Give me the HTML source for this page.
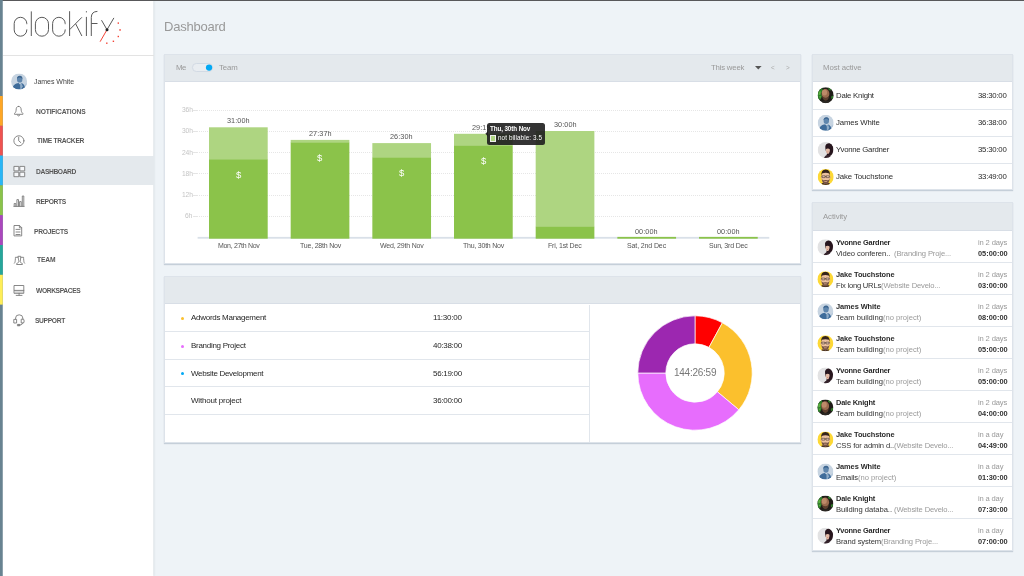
<!DOCTYPE html>
<html><head><meta charset="utf-8"><title>Clockify Dashboard</title>
<style>
*{box-sizing:border-box;margin:0;padding:0}
html,body{width:1024px;height:576px;overflow:hidden}
body{background:#eef3f7;font-family:"Liberation Sans",sans-serif;position:relative}
.a{position:absolute}
.t{position:absolute;white-space:nowrap;will-change:transform}
.card{position:absolute;background:#fff;border:1px solid #dde3ea;box-shadow:0 1px 1px rgba(120,140,160,.35)}
.hd{position:absolute;left:0;top:0;right:0;background:#e4e9ed;border-bottom:1px solid #d8dee6}
.ln{position:absolute;left:0;right:0;height:1px;background:#e1e6ec}
.gl{position:absolute;height:0;border-top:1px dotted #e6e6e6}
.bd{position:absolute;background:#8bc34a}
.bl{position:absolute;background:#aed581}
svg{position:absolute;overflow:visible}

</style></head>
<body>
<!-- sidebar -->
<div class="a" style="left:0;top:0;width:153px;height:576px;background:#fff;box-shadow:1px 0 2px rgba(60,70,80,.14)"></div><div class="a" style="left:153px;top:0;width:1px;height:576px;background:rgba(255,255,255,.35)"></div>
<svg class="a" style="left:0;top:0;z-index:2" width="4" height="576" viewBox="0 0 4 576">
<rect x="0" y="0" width="2.75" height="576" fill="#688391"/>
<rect x="0" y="96" width="2.75" height="29.8" fill="#ffa726"/>
<rect x="0" y="125.8" width="2.75" height="29.8" fill="#ef5350"/>
<rect x="0" y="155.6" width="2.75" height="29.8" fill="#29b6f6"/>
<rect x="0" y="185.4" width="2.75" height="29.8" fill="#8bc34a"/>
<rect x="0" y="215.2" width="2.75" height="29.8" fill="#ab47bc"/>
<rect x="0" y="245" width="2.75" height="29.8" fill="#26a69a"/>
<rect x="0" y="274.8" width="2.75" height="29.8" fill="#ffee58"/>
</svg>
<div class="a" style="left:2px;top:155.6px;width:152px;height:29.8px;background:#e4e9ed"></div>
<div class="a" style="left:3px;top:55px;width:151px;height:1px;background:#e3e3e3"></div>
<div class="a" style="left:0;top:0;width:1024px;height:1.3px;background:#58585a"></div>

<!-- logo -->
<svg class="a" style="left:0;top:0" width="154" height="55" viewBox="0 0 154 55" fill="none" stroke="#5a5a5a" stroke-width="1" stroke-linecap="butt">
<path d="M26.8 24.2 V23.6 A6.3 6.3 0 0 0 14.2 23.6 V29.9 A6.3 6.3 0 0 0 26.8 29.9 V29.4"/>
<path d="M31.3 11.4 V36"/>
<rect x="35.4" y="17.3" width="13.1" height="18.9" rx="6.55" ry="6.55"/>
<path d="M65.2 24.2 V23.6 A6.3 6.3 0 0 0 52.6 23.6 V29.9 A6.3 6.3 0 0 0 65.2 29.9 V29.4"/>
<path d="M69.6 11.2 V36 M69.6 29.7 L81.9 17.3 M75.7 23.9 L81.9 36"/>
<path d="M86.4 16.9 V36 M86.4 11.2 V12.4"/>
<path d="M91.3 36 V17.5 Q91.3 11.6 97.4 11.4 M91.3 23.5 H97.5"/>
<path d="M101.5 20.2 L107 29.7 L113.9 17.9"/>
<path d="M107 29.7 L100.1 41.7" stroke="#f44336"/>
<circle cx="107" cy="29.7" r="1.5" fill="#222" stroke="none"/>
<g fill="#f44336" stroke="none">
<rect x="117.6" y="22.4" width="1.4" height="1.4"/><rect x="119.3" y="29.2" width="1.5" height="1.5"/><rect x="117.6" y="35.8" width="1.4" height="1.4"/><rect x="112.7" y="40.6" width="1.4" height="1.4"/><rect x="106.1" y="42.5" width="1.4" height="1.4"/>
</g>
</svg>

<!-- sidebar avatar -->

<!-- menu icons -->
<svg class="a" style="left:0;top:96px" width="40" height="240" viewBox="0 96 40 240" fill="none" stroke="#7a7a7a" stroke-width="0.9" stroke-linejoin="round" stroke-linecap="round">
<!-- bell -->
<path d="M18.6 106.4 C16.3 106.4 16.2 108.2 16.1 110.2 C16 112 15.2 112.8 14.5 113.5 V114.3 H22.9 V113.5 C22.2 112.8 21.3 112 21.2 110.2 C21.1 108.2 20.9 106.4 18.6 106.4 Z M17.4 115 C17.6 116.4 19.6 116.4 19.8 115"/>
<!-- clock -->
<circle cx="18.9" cy="140.8" r="5.05"/><path d="M18.7 137.2 V140.8 L20.8 142.6"/>
<!-- dashboard -->
<g fill="#f6f8fa"><rect x="14.3" y="166.4" width="4.5" height="4.5"/><rect x="20.2" y="166.4" width="4.5" height="4.5"/><rect x="14.3" y="172.2" width="4.5" height="4.5"/><rect x="20.2" y="172.2" width="4.5" height="4.5"/></g>
<!-- reports -->
<path d="M14.2 206.2 V203.5 H15.8 V206.2 M16.9 206.2 V199.6 H18.5 V206.2 M19.6 206.2 V201.6 H21.2 V206.2 M22.3 206.2 V196 H23.8 V206.2 M13.9 206.4 H24.1"/>
<!-- projects -->
<path d="M14.4 225.5 H19.6 L21.7 227.6 V235.9 H14.4 Z M19.4 225.6 V227.8 H21.6 M16 229.4 H20 M16 232 H20 M16 234.5 H20"/>
<!-- team -->
<path d="M18.3 256.3 H20.7 V258 C20.7 259.6 20.1 260.4 20.2 261.6 C20.3 262.8 21.6 263 22.4 263.6 V264.5 H16.6 V263.6 C17.4 263 18.7 262.8 18.8 261.6 C18.9 260.4 18.3 259.6 18.3 258 Z M17.7 257.3 H15.4 V258.6 C15.4 260 15.1 260.8 15.1 261.6 C15 262.5 14.7 262.8 14.4 263.2 M21.3 257.3 H23.6 V258.6 C23.6 260 23.9 260.8 23.9 261.6 C24 262.5 24.3 262.8 24.6 263.2"/>
<!-- workspaces -->
<rect x="14.5" y="290.4" width="9.2" height="2.9" fill="#ddd" stroke="none"/>
<path d="M14.4 285.5 H23.8 V293.3 H14.4 Z M14.4 290.4 H23.8 M19.1 293.3 V295.2 M16.2 295.4 H22"/>
<!-- support -->
<path d="M15.6 319 V318 A3.4 3 0 0 1 22.8 318 V319 M14.2 319.4 H16.6 V323 H14.2 Z M21.6 319.2 H23.6 Q24.8 321 23.6 323 H21.6 Z M22.8 323 Q22.6 325 19.6 325.2"/>
<rect x="17.8" y="324.4" width="2" height="1.4" fill="#7a7a7a"/>
</svg>
<!-- avatar defs -->
<svg class="a" width="0" height="0" style="left:0;top:0">
<defs>
<clipPath id="cc"><circle cx="8" cy="8" r="8"/></clipPath>
<g id="av-james" clip-path="url(#cc)">
 <rect width="16" height="16" fill="#c7d4e1"/>
 <path d="M9 16 L16 9 V16 Z" fill="#b3c6d9"/>
 <ellipse cx="8.6" cy="5.9" rx="2.7" ry="3.2" fill="#5f86ad"/>
 <path d="M5.8 5.4 Q6 2.2 8.8 2.3 Q11.6 2.6 11.3 5.6 Q10 3.8 8.4 4 Q6.8 4.2 5.8 5.4 Z" fill="#3c658f"/>
 <path d="M1 16 C1.6 11.4 4.6 9.6 7.4 9.4 L9 11 L10.4 9.6 C12.6 10 13.8 12.4 14.2 16 Z" fill="#3f6c9a"/>
 <path d="M9 11 L10.4 9.6 L11.6 12.8 L10.2 16 H9.2 Z" fill="#8eabc7"/>
</g>
<g id="av-dale" clip-path="url(#cc)">
 <rect width="16" height="16" fill="#1f1c18"/>
 <path d="M0 1.6 L4.4 0.6 L5.4 3.6 L3.6 6 L4.4 9 L2.8 12.4 L0 13.4 Z" fill="#2f7d2a"/>
 <path d="M0.8 4.6 L3.2 4 L2.8 7.2 L1 8 Z M1.2 9.4 L3.2 8.8 L2.6 11.2 Z" fill="#5cb040"/>
 <path d="M10.6 0.4 L13.8 1.8 L12.6 3.6 L10.8 2.6 Z M13.4 9.2 L15.6 8.4 L15.4 11.2 L13.6 11.6 Z" fill="#2f7d2a"/>
 <ellipse cx="7.8" cy="6.6" rx="3.9" ry="4.7" fill="#9b6a4e"/>
 <ellipse cx="6.8" cy="5.4" rx="2.6" ry="3" fill="#bd8a69"/>
 <path d="M4.2 8.6 Q5 13.2 8 13.6 Q10.8 13.2 11.4 8.8 Q9.8 10.8 7.8 10.6 Q5.8 10.6 4.2 8.6 Z" fill="#5d3f2e"/>
 <path d="M3 16 Q4 13.2 8 13.6 Q12.4 13.2 14 16 Z" fill="#2b2723"/>
</g>
<g id="av-yvonne" clip-path="url(#cc)">
 <rect width="16" height="16" fill="#e2e2e3"/>
 <path d="M7.6 4.4 C8 1.4 11 0.6 13 1.6 C15.6 3 16 6.4 15.4 9.4 C15 12 13.6 13.4 12 14 L8.6 14.4 L9.4 11 L8 8.6 Z" fill="#28161e"/>
 <path d="M8.4 6.2 Q10.2 5.2 12 6.2 Q12.6 9 11.4 11 Q10.4 12.4 9.4 11.6 Q8.4 10.6 8.2 9 Z" fill="#e3bba6"/>
 <path d="M8 5.6 Q10.2 3.6 12.8 5.8 L12.4 7.2 Q10.4 5.8 8.2 7 Z" fill="#28161e"/>
 <path d="M9.4 9.6 Q10.2 10.1 11 9.6 L10.2 10.5 Z" fill="#b4534f"/>
 <path d="M6 16 Q7.4 13 10.4 12.8 Q13 13 14 16 Z" fill="#34222a"/>
</g>
<g id="av-jake" clip-path="url(#cc)">
 <rect width="16" height="16" fill="#fdd835"/>
 <path d="M2.6 16 Q4 13.4 8 13.6 Q12 13.4 13.4 16 Z" fill="#4a3328"/>
 <ellipse cx="3.9" cy="8.2" rx="0.8" ry="1.3" fill="#dda683"/><ellipse cx="12.1" cy="8.2" rx="0.8" ry="1.3" fill="#dda683"/>
 <path d="M4 7 Q4 2.4 8 2.4 Q12 2.4 12 7 V9.6 Q11.6 14.6 8 14.8 Q4.4 14.6 4 9.6 Z" fill="#ebc0a0"/>
 <path d="M3.8 7 Q3 1 8 0.6 Q13 1 12.2 7 L11.6 4.4 Q8 3.2 4.4 4.4 Z" fill="#35241b"/>
 <path d="M4 9.4 Q4.4 14.8 8 15 Q11.6 14.8 12 9.4 Q11.4 11.4 10 11.2 Q8 10.6 6 11.2 Q4.6 11.4 4 9.4 Z" fill="#765443"/>
 <path d="M6.6 12.2 H9.4 V12.9 H6.6 Z" fill="#e0ae8e"/>
 <path d="M4.4 6.8 H7.4 V8.6 H4.4 Z M8.6 6.8 H11.6 V8.6 H8.6 Z M7.4 7.4 H8.6 M3.8 7.2 H4.4 M11.6 7.2 H12.2" fill="rgba(255,255,255,.25)" stroke="#3a2a22" stroke-width="0.55"/>
</g>
</defs>
</svg>

<!-- chart card -->
<div class="card" style="left:164px;top:54px;width:636.6px;height:210px">
 <div class="hd" style="height:27px"></div>
</div>
<!-- toggle -->
<div class="a" style="left:192px;top:63px;width:20.6px;height:8.6px;border-radius:4.3px;background:#e9edf1;border:1px solid #d2dae4"></div>
<svg class="a" style="left:200px;top:60px" width="16" height="16" viewBox="0 0 16 16"><circle cx="9.06" cy="7.56" r="3.15" fill="#03a9f4"/></svg>
<svg class="a" style="left:754.6px;top:65.8px" width="7" height="4" viewBox="0 0 7 4"><path d="M0 0 H6.6 L3.3 3.6 Z" fill="#555"/></svg>

<!-- gridlines -->
<div class="a" style="left:193px;top:110px;width:4px;height:1px;background:#e4e4e4"></div><div class="a" style="left:193px;top:131px;width:4px;height:1px;background:#e4e4e4"></div><div class="a" style="left:193px;top:152px;width:4px;height:1px;background:#e4e4e4"></div><div class="a" style="left:193px;top:173px;width:4px;height:1px;background:#e4e4e4"></div><div class="a" style="left:193px;top:195px;width:4px;height:1px;background:#e4e4e4"></div><div class="a" style="left:193px;top:216px;width:4px;height:1px;background:#e4e4e4"></div>
<div class="gl" style="left:193px;top:109.7px;width:577px"></div>
<div class="gl" style="left:193px;top:130.9px;width:577px"></div>
<div class="gl" style="left:193px;top:152.2px;width:577px"></div>
<div class="gl" style="left:193px;top:173.4px;width:577px"></div>
<div class="gl" style="left:193px;top:194.7px;width:577px"></div>
<div class="gl" style="left:193px;top:215.9px;width:577px"></div>
<svg class="a" style="left:0;top:0" width="1024" height="576" viewBox="0 0 1024 576"><rect x="197.6" y="236.9" width="571.7" height="1.8" fill="#d9e0e8"/></svg>
<!-- bars -->
<svg class="a" style="left:0;top:0" width="1024" height="576" viewBox="0 0 1024 576">
<rect x="209.00" y="127.3" width="58.7" height="32.30" fill="#aed581"/>
<rect x="209.00" y="159.3" width="58.7" height="79.40" fill="#8bc34a"/>
<rect x="290.67" y="139.9" width="58.7" height="3.00" fill="#aed581"/>
<rect x="290.67" y="142.6" width="58.7" height="96.10" fill="#8bc34a"/>
<rect x="372.34" y="143.1" width="58.7" height="14.80" fill="#aed581"/>
<rect x="372.34" y="157.6" width="58.7" height="81.10" fill="#8bc34a"/>
<rect x="454.01" y="133.8" width="58.7" height="12.30" fill="#aed581"/>
<rect x="454.01" y="145.8" width="58.7" height="92.90" fill="#8bc34a"/>
<rect x="535.68" y="131.0" width="58.7" height="96.10" fill="#aed581"/>
<rect x="535.68" y="226.8" width="58.7" height="11.90" fill="#8bc34a"/>
<rect x="617.35" y="236.9" width="58.7" height="1.8" fill="#8bc34a"/>
<rect x="699.02" y="236.9" width="58.7" height="1.8" fill="#8bc34a"/>
</svg>
<!-- tooltip -->
<div class="a" style="left:487.1px;top:122.6px;width:57.9px;height:22.3px;border-radius:2.5px;background:rgba(30,30,30,.9);z-index:5"></div>
<svg class="a" style="left:484.6px;top:130.6px;z-index:5" width="3" height="6" viewBox="0 0 3 6"><path d="M3 0 V5.6 L0.4 2.8 Z" fill="rgba(30,30,30,.9)"/></svg>
<div class="a" style="left:490.1px;top:135.4px;width:6.4px;height:6.3px;background:#aed581;border:0.6px solid #eee;z-index:6"></div>

<!-- table card -->
<div class="card" style="left:164px;top:276px;width:636.6px;height:166.5px">
 <div class="hd" style="height:27px"></div>
 <div class="ln" style="top:54px;right:211px"></div>
 <div class="ln" style="top:82px;right:211px"></div>
 <div class="ln" style="top:109px;right:211px"></div>
 <div class="ln" style="top:137px;right:211px"></div>
 <div class="a" style="left:423.8px;top:27.5px;width:1px;bottom:0;background:#e1e6ec"></div>
</div>
<div class="a" style="left:180.8px;top:316.9px;width:3px;height:3px;border-radius:50%;background:#fbc02d"></div>
<div class="a" style="left:180.8px;top:344.6px;width:3px;height:3px;border-radius:50%;background:#e76dfd"></div>
<div class="a" style="left:180.8px;top:372.3px;width:3px;height:3px;border-radius:50%;background:#03a9f4"></div>

<!-- donut -->
<svg class="a" style="left:634.7px;top:312.8px" width="120" height="120" viewBox="-60 -60 120 120">
<g stroke="#fff" stroke-width="0.7" stroke-linejoin="round">
<path fill="#ff0000" d="M0.00 -57.20 A57.2 57.2 0 0 1 27.38 -50.22 L13.98 -25.64 A29.2 29.2 0 0 0 0.00 -29.20 Z"/>
<path fill="#fbc02d" d="M27.38 -50.22 A57.2 57.2 0 0 1 43.82 36.77 L22.37 18.77 A29.2 29.2 0 0 0 13.98 -25.64 Z"/>
<path fill="#e76dfd" d="M43.82 36.77 A57.2 57.2 0 0 1 -57.20 0.00 L-29.20 0.00 A29.2 29.2 0 0 0 22.37 18.77 Z"/>
<path fill="#9c27b0" d="M-57.20 0.00 A57.2 57.2 0 0 1 -0.00 -57.20 L-0.00 -29.20 A29.2 29.2 0 0 0 -29.20 0.00 Z"/>
</g>
</svg>

<!-- most active card -->
<div class="card" style="left:812px;top:54px;width:201px;height:136px">
 <div class="hd" style="height:27px"></div>
 <div class="ln" style="top:54px"></div>
 <div class="ln" style="top:81px"></div>
 <div class="ln" style="top:108px"></div>
</div>

<!-- activity card -->
<div class="card" style="left:812px;top:202px;width:201px;height:349px">
 <div class="hd" style="height:28px"></div>
 <div class="ln" style="top:59px"></div>
<div class="ln" style="top:91px"></div>
<div class="ln" style="top:123px"></div>
<div class="ln" style="top:155px"></div>
<div class="ln" style="top:187px"></div>
<div class="ln" style="top:219px"></div>
<div class="ln" style="top:251px"></div>
<div class="ln" style="top:283px"></div>
<div class="ln" style="top:315px"></div>
</div>

<svg class="a" style="left:0;top:0" width="1024" height="576" viewBox="0 0 1024 576">
<use href="#av-james" x="11.1" y="73.5"/>
<use href="#av-dale" x="817.7" y="87.2"/>
<use href="#av-james" x="817.7" y="114.85"/>
<use href="#av-yvonne" x="817.7" y="142.0"/>
<use href="#av-jake" x="817.7" y="169.0"/>
<use href="#av-yvonne" x="817.4" y="239.2"/>
<use href="#av-jake" x="817.4" y="271.25"/>
<use href="#av-james" x="817.4" y="303.3"/>
<use href="#av-jake" x="817.4" y="335.35"/>
<use href="#av-yvonne" x="817.4" y="367.4"/>
<use href="#av-dale" x="817.4" y="399.45"/>
<use href="#av-jake" x="817.4" y="431.5"/>
<use href="#av-james" x="817.4" y="463.55"/>
<use href="#av-dale" x="817.4" y="495.6"/>
<use href="#av-yvonne" x="817.4" y="527.65"/>
</svg>

<span class="t" style="left:33.5px;top:76px;line-height:11px;height:11px;font-size:7px;color:#444;letter-spacing:-0.034px;">James White</span>
<span class="t" style="left:35.5px;top:106px;line-height:11px;height:11px;font-size:6.7px;color:#585858;font-weight:700;letter-spacing:-0.155px;">NOTIFICATIONS</span>
<span class="t" style="left:36.5px;top:135px;line-height:11px;height:11px;font-size:6.7px;color:#585858;font-weight:700;letter-spacing:-0.282px;">TIME TRACKER</span>
<span class="t" style="left:36px;top:166px;line-height:11px;height:11px;font-size:6.7px;color:#585858;font-weight:700;letter-spacing:-0.385px;">DASHBOARD</span>
<span class="t" style="left:36px;top:196px;line-height:11px;height:11px;font-size:6.7px;color:#585858;font-weight:700;letter-spacing:-0.368px;">REPORTS</span>
<span class="t" style="left:33.5px;top:226px;line-height:11px;height:11px;font-size:6.7px;color:#585858;font-weight:700;letter-spacing:-0.268px;">PROJECTS</span>
<span class="t" style="left:37px;top:254px;line-height:11px;height:11px;font-size:6.7px;color:#585858;font-weight:700;letter-spacing:-0.138px;">TEAM</span>
<span class="t" style="left:36px;top:285px;line-height:11px;height:11px;font-size:6.7px;color:#585858;font-weight:700;letter-spacing:-0.389px;">WORKSPACES</span>
<span class="t" style="left:34.5px;top:315px;line-height:11px;height:11px;font-size:6.7px;color:#585858;font-weight:700;letter-spacing:-0.347px;">SUPPORT</span>
<span class="t" style="left:164px;top:17px;line-height:19px;height:19px;font-size:13px;color:#999;letter-spacing:-0.223px;">Dashboard</span>
<span class="t" style="left:175.5px;top:61px;line-height:13px;height:13px;font-size:7.8px;color:#999;letter-spacing:-0.422px;">Me</span>
<span class="t" style="left:219px;top:61px;line-height:13px;height:13px;font-size:7.8px;color:#999;letter-spacing:-0.095px;">Team</span>
<span class="t" style="left:711px;top:61px;line-height:13px;height:13px;font-size:7.8px;color:#999;letter-spacing:-0.212px;">This week</span>
<span class="t" style="left:771px;top:62px;line-height:11px;height:11px;font-size:6.3px;color:#aaa;">&lt;</span>
<span class="t" style="left:786px;top:62px;line-height:11px;height:11px;font-size:6.3px;color:#aaa;">&gt;</span>
<span class="t" style="left:185px;top:210px;line-height:11px;height:11px;font-size:6.7px;color:#c4c4c4;letter-spacing:-0.127px;">6h</span>
<span class="t" style="left:181.5px;top:189px;line-height:11px;height:11px;font-size:6.7px;color:#c4c4c4;letter-spacing:-0.124px;">12h</span>
<span class="t" style="left:181.5px;top:168px;line-height:11px;height:11px;font-size:6.7px;color:#c4c4c4;letter-spacing:-0.124px;">18h</span>
<span class="t" style="left:181.5px;top:147px;line-height:11px;height:11px;font-size:6.7px;color:#c4c4c4;letter-spacing:-0.124px;">24h</span>
<span class="t" style="left:181.5px;top:125px;line-height:11px;height:11px;font-size:6.7px;color:#c4c4c4;letter-spacing:-0.124px;">30h</span>
<span class="t" style="left:181.5px;top:104px;line-height:11px;height:11px;font-size:6.7px;color:#c4c4c4;letter-spacing:-0.124px;">36h</span>
<span class="t" style="left:227px;top:114px;line-height:13px;height:13px;font-size:7.3px;color:#555;letter-spacing:0.062px;">31:00h</span>
<span class="t" style="left:217.5px;top:240px;line-height:11px;height:11px;font-size:7px;color:#555;letter-spacing:-0.318px;">Mon, 27th Nov</span>
<span class="t" style="left:235.5px;top:167px;line-height:15px;height:15px;font-size:9.5px;color:#fff;">$</span>
<span class="t" style="left:308.5px;top:127px;line-height:13px;height:13px;font-size:7.3px;color:#555;letter-spacing:0.062px;">27:37h</span>
<span class="t" style="left:299.5px;top:240px;line-height:11px;height:11px;font-size:7px;color:#555;letter-spacing:-0.209px;">Tue, 28th Nov</span>
<span class="t" style="left:317px;top:150px;line-height:15px;height:15px;font-size:9.5px;color:#fff;">$</span>
<span class="t" style="left:390px;top:130px;line-height:13px;height:13px;font-size:7.3px;color:#555;letter-spacing:0.062px;">26:30h</span>
<span class="t" style="left:379.5px;top:240px;line-height:11px;height:11px;font-size:7px;color:#555;letter-spacing:-0.207px;">Wed, 29th Nov</span>
<span class="t" style="left:399px;top:165px;line-height:15px;height:15px;font-size:9.5px;color:#fff;">$</span>
<span class="t" style="left:472px;top:121px;line-height:13px;height:13px;font-size:7.3px;color:#555;letter-spacing:0.062px;">29:19h</span>
<span class="t" style="left:462.5px;top:240px;line-height:11px;height:11px;font-size:7px;color:#555;letter-spacing:-0.228px;">Thu, 30th Nov</span>
<span class="t" style="left:480.5px;top:153px;line-height:15px;height:15px;font-size:9.5px;color:#fff;">$</span>
<span class="t" style="left:553.5px;top:118px;line-height:13px;height:13px;font-size:7.3px;color:#555;letter-spacing:0.062px;">30:00h</span>
<span class="t" style="left:548px;top:240px;line-height:11px;height:11px;font-size:7px;color:#555;letter-spacing:-0.191px;">Fri, 1st Dec</span>
<span class="t" style="left:635px;top:225px;line-height:13px;height:13px;font-size:7.3px;color:#555;letter-spacing:0.062px;">00:00h</span>
<span class="t" style="left:627px;top:240px;line-height:11px;height:11px;font-size:7px;color:#555;letter-spacing:-0.122px;">Sat, 2nd Dec</span>
<span class="t" style="left:717px;top:225px;line-height:13px;height:13px;font-size:7.3px;color:#555;letter-spacing:0.062px;">00:00h</span>
<span class="t" style="left:709px;top:240px;line-height:11px;height:11px;font-size:7px;color:#555;letter-spacing:-0.197px;">Sun, 3rd Dec</span>
<span class="t" style="left:490px;top:123px;line-height:11px;height:11px;font-size:6.3px;color:#fff;font-weight:700;letter-spacing:-0.111px;z-index:6;">Thu, 30th Nov</span>
<span class="t" style="left:497.5px;top:132px;line-height:11px;height:11px;font-size:6.3px;color:#fff;letter-spacing:0.096px;z-index:6;">not billable: 3.5</span>
<span class="t" style="left:191px;top:311px;line-height:13px;height:13px;font-size:8px;color:#262626;letter-spacing:-0.280px;">Adwords Management</span>
<span class="t" style="left:433px;top:311px;line-height:13px;height:13px;font-size:8px;color:#262626;letter-spacing:-0.218px;">11:30:00</span>
<span class="t" style="left:191px;top:339px;line-height:13px;height:13px;font-size:8px;color:#262626;letter-spacing:-0.285px;">Branding Project</span>
<span class="t" style="left:433px;top:339px;line-height:13px;height:13px;font-size:8px;color:#262626;letter-spacing:-0.293px;">40:38:00</span>
<span class="t" style="left:191px;top:367px;line-height:13px;height:13px;font-size:8px;color:#262626;letter-spacing:-0.312px;">Website Development</span>
<span class="t" style="left:433px;top:367px;line-height:13px;height:13px;font-size:8px;color:#262626;letter-spacing:-0.293px;">56:19:00</span>
<span class="t" style="left:191px;top:394px;line-height:13px;height:13px;font-size:8px;color:#262626;letter-spacing:-0.204px;">Without project</span>
<span class="t" style="left:433px;top:394px;line-height:13px;height:13px;font-size:8px;color:#262626;letter-spacing:-0.293px;">36:00:00</span>
<span class="t" style="left:673.5px;top:365px;line-height:15px;height:15px;font-size:10px;color:#777;letter-spacing:-0.256px;">144:26:59</span>
<span class="t" style="left:822.5px;top:61px;line-height:13px;height:13px;font-size:7.8px;color:#999;letter-spacing:-0.076px;">Most active</span>
<span class="t" style="left:835.5px;top:89px;line-height:13px;height:13px;font-size:7.8px;color:#2a2a2a;letter-spacing:-0.228px;">Dale Knight</span>
<span class="t" style="left:978px;top:89px;line-height:13px;height:13px;font-size:7.8px;color:#2a2a2a;letter-spacing:-0.220px;">38:30:00</span>
<span class="t" style="left:835.5px;top:116px;line-height:13px;height:13px;font-size:7.8px;color:#2a2a2a;letter-spacing:-0.133px;">James White</span>
<span class="t" style="left:978px;top:116px;line-height:13px;height:13px;font-size:7.8px;color:#2a2a2a;letter-spacing:-0.220px;">36:38:00</span>
<span class="t" style="left:835.5px;top:143px;line-height:13px;height:13px;font-size:7.8px;color:#2a2a2a;letter-spacing:-0.271px;">Yvonne Gardner</span>
<span class="t" style="left:978px;top:143px;line-height:13px;height:13px;font-size:7.8px;color:#2a2a2a;letter-spacing:-0.220px;">35:30:00</span>
<span class="t" style="left:835.5px;top:170px;line-height:13px;height:13px;font-size:7.8px;color:#2a2a2a;letter-spacing:-0.092px;">Jake Touchstone</span>
<span class="t" style="left:978px;top:170px;line-height:13px;height:13px;font-size:7.8px;color:#2a2a2a;letter-spacing:-0.220px;">33:49:00</span>
<span class="t" style="left:822.5px;top:210px;line-height:13px;height:13px;font-size:7.8px;color:#999;letter-spacing:-0.088px;">Activity</span>
<span class="t" style="left:835.5px;top:236px;line-height:13px;height:13px;font-size:7.4px;color:#2a2a2a;font-weight:700;letter-spacing:-0.200px;">Yvonne Gardner</span>
<span class="t" style="left:835.5px;top:247px;line-height:13px;height:13px;font-size:7.6px;color:#333;letter-spacing:-0.054px;">Video conferen..</span>
<span class="t" style="left:894px;top:247px;line-height:13px;height:13px;font-size:7.6px;color:#999;letter-spacing:-0.116px;">(Branding Proje...</span>
<span class="t" style="left:977.5px;top:236px;line-height:13px;height:13px;font-size:7.6px;color:#999;letter-spacing:-0.134px;">in 2 days</span>
<span class="t" style="left:977.5px;top:247px;line-height:13px;height:13px;font-size:7.4px;color:#333;font-weight:700;letter-spacing:0.013px;">05:00:00</span>
<span class="t" style="left:835.5px;top:268px;line-height:13px;height:13px;font-size:7.4px;color:#2a2a2a;font-weight:700;letter-spacing:-0.089px;">Jake Touchstone</span>
<span class="t" style="left:835.5px;top:279px;line-height:13px;height:13px;font-size:7.6px;color:#333;letter-spacing:-0.207px;">Fix long URLs</span>
<span class="t" style="left:880.5px;top:279px;line-height:13px;height:13px;font-size:7.6px;color:#999;letter-spacing:-0.145px;">(Website Develo...</span>
<span class="t" style="left:977.5px;top:268px;line-height:13px;height:13px;font-size:7.6px;color:#999;letter-spacing:-0.134px;">in 2 days</span>
<span class="t" style="left:977.5px;top:279px;line-height:13px;height:13px;font-size:7.4px;color:#333;font-weight:700;letter-spacing:0.013px;">03:00:00</span>
<span class="t" style="left:835.5px;top:300px;line-height:13px;height:13px;font-size:7.4px;color:#2a2a2a;font-weight:700;letter-spacing:-0.062px;">James White</span>
<span class="t" style="left:835.5px;top:311px;line-height:13px;height:13px;font-size:7.6px;color:#333;letter-spacing:0.011px;">Team building</span>
<span class="t" style="left:882.5px;top:311px;line-height:13px;height:13px;font-size:7.6px;color:#999;letter-spacing:-0.010px;">(no project)</span>
<span class="t" style="left:977.5px;top:300px;line-height:13px;height:13px;font-size:7.6px;color:#999;letter-spacing:-0.134px;">in 2 days</span>
<span class="t" style="left:977.5px;top:311px;line-height:13px;height:13px;font-size:7.4px;color:#333;font-weight:700;letter-spacing:0.013px;">08:00:00</span>
<span class="t" style="left:835.5px;top:332px;line-height:13px;height:13px;font-size:7.4px;color:#2a2a2a;font-weight:700;letter-spacing:-0.089px;">Jake Touchstone</span>
<span class="t" style="left:835.5px;top:343px;line-height:13px;height:13px;font-size:7.6px;color:#333;letter-spacing:0.011px;">Team building</span>
<span class="t" style="left:882.5px;top:343px;line-height:13px;height:13px;font-size:7.6px;color:#999;letter-spacing:-0.010px;">(no project)</span>
<span class="t" style="left:977.5px;top:332px;line-height:13px;height:13px;font-size:7.6px;color:#999;letter-spacing:-0.134px;">in 2 days</span>
<span class="t" style="left:977.5px;top:343px;line-height:13px;height:13px;font-size:7.4px;color:#333;font-weight:700;letter-spacing:0.013px;">05:00:00</span>
<span class="t" style="left:835.5px;top:364px;line-height:13px;height:13px;font-size:7.4px;color:#2a2a2a;font-weight:700;letter-spacing:-0.200px;">Yvonne Gardner</span>
<span class="t" style="left:835.5px;top:375px;line-height:13px;height:13px;font-size:7.6px;color:#333;letter-spacing:0.011px;">Team building</span>
<span class="t" style="left:882.5px;top:375px;line-height:13px;height:13px;font-size:7.6px;color:#999;letter-spacing:-0.010px;">(no project)</span>
<span class="t" style="left:977.5px;top:364px;line-height:13px;height:13px;font-size:7.6px;color:#999;letter-spacing:-0.134px;">in 2 days</span>
<span class="t" style="left:977.5px;top:375px;line-height:13px;height:13px;font-size:7.4px;color:#333;font-weight:700;letter-spacing:0.013px;">05:00:00</span>
<span class="t" style="left:835.5px;top:396px;line-height:13px;height:13px;font-size:7.4px;color:#2a2a2a;font-weight:700;letter-spacing:-0.188px;">Dale Knight</span>
<span class="t" style="left:835.5px;top:407px;line-height:13px;height:13px;font-size:7.6px;color:#333;letter-spacing:0.011px;">Team building</span>
<span class="t" style="left:882.5px;top:407px;line-height:13px;height:13px;font-size:7.6px;color:#999;letter-spacing:-0.010px;">(no project)</span>
<span class="t" style="left:977.5px;top:396px;line-height:13px;height:13px;font-size:7.6px;color:#999;letter-spacing:-0.134px;">in 2 days</span>
<span class="t" style="left:977.5px;top:407px;line-height:13px;height:13px;font-size:7.4px;color:#333;font-weight:700;letter-spacing:0.013px;">04:00:00</span>
<span class="t" style="left:835.5px;top:428px;line-height:13px;height:13px;font-size:7.4px;color:#2a2a2a;font-weight:700;letter-spacing:-0.089px;">Jake Touchstone</span>
<span class="t" style="left:835.5px;top:439px;line-height:13px;height:13px;font-size:7.6px;color:#333;letter-spacing:-0.114px;">CSS for admin d..</span>
<span class="t" style="left:893.5px;top:439px;line-height:13px;height:13px;font-size:7.6px;color:#999;letter-spacing:-0.145px;">(Website Develo...</span>
<span class="t" style="left:977.5px;top:428px;line-height:13px;height:13px;font-size:7.6px;color:#999;letter-spacing:-0.164px;">in a day</span>
<span class="t" style="left:977.5px;top:439px;line-height:13px;height:13px;font-size:7.4px;color:#333;font-weight:700;letter-spacing:0.013px;">04:49:00</span>
<span class="t" style="left:835.5px;top:460px;line-height:13px;height:13px;font-size:7.4px;color:#2a2a2a;font-weight:700;letter-spacing:-0.062px;">James White</span>
<span class="t" style="left:835.5px;top:471px;line-height:13px;height:13px;font-size:7.6px;color:#333;letter-spacing:-0.133px;">Emails</span>
<span class="t" style="left:857.5px;top:471px;line-height:13px;height:13px;font-size:7.6px;color:#999;letter-spacing:-0.010px;">(no project)</span>
<span class="t" style="left:977.5px;top:460px;line-height:13px;height:13px;font-size:7.6px;color:#999;letter-spacing:-0.164px;">in a day</span>
<span class="t" style="left:977.5px;top:471px;line-height:13px;height:13px;font-size:7.4px;color:#333;font-weight:700;letter-spacing:0.013px;">01:30:00</span>
<span class="t" style="left:835.5px;top:492px;line-height:13px;height:13px;font-size:7.4px;color:#2a2a2a;font-weight:700;letter-spacing:-0.188px;">Dale Knight</span>
<span class="t" style="left:835.5px;top:503px;line-height:13px;height:13px;font-size:7.6px;color:#333;letter-spacing:-0.034px;">Building databa..</span>
<span class="t" style="left:893.5px;top:503px;line-height:13px;height:13px;font-size:7.6px;color:#999;letter-spacing:-0.145px;">(Website Develo...</span>
<span class="t" style="left:977.5px;top:492px;line-height:13px;height:13px;font-size:7.6px;color:#999;letter-spacing:-0.164px;">in a day</span>
<span class="t" style="left:977.5px;top:503px;line-height:13px;height:13px;font-size:7.4px;color:#333;font-weight:700;letter-spacing:0.013px;">07:30:00</span>
<span class="t" style="left:835.5px;top:524px;line-height:13px;height:13px;font-size:7.4px;color:#2a2a2a;font-weight:700;letter-spacing:-0.200px;">Yvonne Gardner</span>
<span class="t" style="left:835.5px;top:535px;line-height:13px;height:13px;font-size:7.6px;color:#333;letter-spacing:-0.120px;">Brand system</span>
<span class="t" style="left:880.5px;top:535px;line-height:13px;height:13px;font-size:7.6px;color:#999;letter-spacing:-0.116px;">(Branding Proje...</span>
<span class="t" style="left:977.5px;top:524px;line-height:13px;height:13px;font-size:7.6px;color:#999;letter-spacing:-0.164px;">in a day</span>
<span class="t" style="left:977.5px;top:535px;line-height:13px;height:13px;font-size:7.4px;color:#333;font-weight:700;letter-spacing:0.013px;">07:00:00</span>
</body></html>
